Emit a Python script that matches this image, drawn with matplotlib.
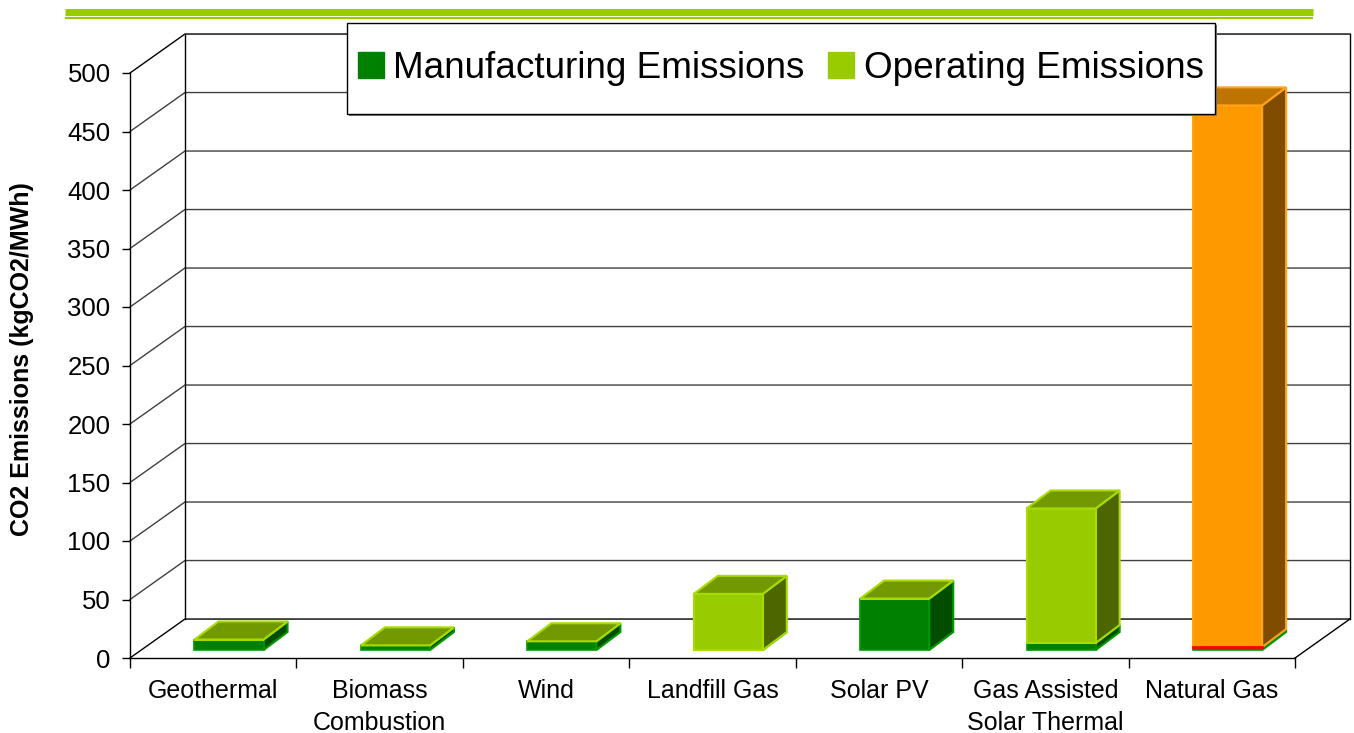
import numpy as np
import matplotlib.pyplot as plt
from matplotlib.patches import Polygon, Rectangle, Patch
from matplotlib.lines import Line2D

plt.rcParams['font.family'] = ['Liberation Sans', 'DejaVu Sans']

categories = ['Geothermal', 'Biomass\nCombustion', 'Wind', 'Landfill Gas',
              'Solar PV', 'Gas Assisted\nSolar Thermal', 'Natural Gas']
manufacturing = [9, 4, 7.5, 0, 44, 6, 2.5]
operating = [0, 0, 0, 48, 0, 115, 463]
y_ticks = list(range(0, 501, 50))
series_names = ['Manufacturing Emissions', 'Operating Emissions']

# face colours: front, side, top, edge
man_col = ('#008000', '#004d00', '#006600', '#009900')
op_col = ('#99cc00', '#4d6600', '#739900', '#a8dc00')
gas_col = ('#ff9900', '#804d00', '#bf7300', '#ffa31a')
op_colors = [op_col] * 6 + [gas_col]

W, H = 1354, 733
fig = plt.figure(figsize=(W / 100, H / 100), dpi=100)
ax = fig.add_axes([130 / W, 1 - 658 / H, 1165 / W, 585 / H])
n = len(categories)
x0, x1 = -0.5, n - 0.5
ax.set_xlim(x0, x1)
ax.set_ylim(0, 500)
ax.patch.set_visible(False)

# fake 3d geometry, in data units
DX, DY = 0.33, 33.3     # floor depth
BX, BY = 0.095, 6.8     # where the bar fronts sit
SX, SY = 0.144, 15.4    # bar depth
BW = 0.415

# back wall + side wall grid
for v in y_ticks:
    c = 'black' if v in (0, 500) else '#404040'
    ax.plot([x0, x0 + DX, x1 + DX], [v, v + DY, v + DY], color=c, lw=1,
            clip_on=False, zorder=1)
ax.plot([x0 + DX] * 2, [DY, 500 + DY], color='black', lw=1, clip_on=False, zorder=1)
ax.plot([x1 + DX] * 2, [DY, 500 + DY], color='black', lw=1, clip_on=False, zorder=1)
ax.plot([x1, x1 + DX], [0, DY], color='black', lw=1, clip_on=False, zorder=1)

xs = np.arange(n) + BX
man = np.array(manufacturing, dtype=float)
op = np.array(operating, dtype=float)

ax.bar(xs, man, width=BW, bottom=BY, color=man_col[0], edgecolor=man_col[3],
       lw=1.2, zorder=3)
ax.bar(xs, op, width=BW, bottom=BY + man, color=[c[0] for c in op_colors],
       edgecolor=[c[3] for c in op_colors], lw=1.5, zorder=3)


def side_top(xc, b, t, col, top=False):
    xl, xr = xc - BW / 2, xc + BW / 2
    ax.add_patch(Polygon([(xr, b), (xr + SX, b + SY), (xr + SX, t + SY), (xr, t)],
                         closed=True, fc=col[1], ec=col[3], lw=1.5,
                         clip_on=False, zorder=2.9))
    if top:
        ax.add_patch(Polygon([(xl, t), (xl + SX, t + SY), (xr + SX, t + SY), (xr, t)],
                             closed=True, fc=col[2], ec=col[3], lw=1.5,
                             clip_on=False, zorder=3.1))


for i in range(n):
    b = BY
    side_top(xs[i], b, b + man[i], man_col)
    side_top(xs[i], b + man[i], b + man[i] + op[i], op_colors[i], top=True)

# thin red rim under the natural gas block
ax.plot([xs[-1] - BW / 2, xs[-1] + BW / 2], [BY + man[-1]] * 2, color='#ff0000',
        lw=2, zorder=3.05)

# axes / ticks
for s in ('top', 'right'):
    ax.spines[s].set_visible(False)
ax.spines['left'].set_linewidth(1)
ax.spines['bottom'].set_linewidth(1)
ax.set_yticks(y_ticks)
ax.tick_params(axis='y', length=6, width=1, pad=8, labelsize=18.5)
ax.set_xticks(np.arange(x0, x1 + 0.01, 1))
ax.set_xticklabels([])
ax.set_xticks(np.arange(n), minor=True)
ax.set_xticklabels(categories, minor=True, fontsize=18, linespacing=1.45)
ax.tick_params(axis='x', which='major', length=7, width=1)
ax.tick_params(axis='x', which='minor', length=0, pad=15)

ax.set_ylabel('CO2 Emissions (kgCO2/MWh)', fontsize=18, fontweight='bold')
ax.yaxis.set_label_coords(-96 / 1165, 0.511)

# green rule at the top
fig.add_artist(Line2D([65 / W, 1313 / W], [1 - 11.5 / H] * 2, lw=5, color='#99cc00',
                      solid_capstyle='butt'))
fig.add_artist(Line2D([65 / W, 1313 / W], [1 - 18.3 / H] * 2, lw=1.6, color='#99cc00',
                      solid_capstyle='butt'))

# legend box
fig.add_artist(Rectangle((349 / W, 1 - 116 / H), 868 / W, 91 / H, transform=fig.transFigure,
                         fc='#808080', ec='none', zorder=4))
fig.add_artist(Rectangle((347 / W, 1 - 114 / H), 868 / W, 91 / H, transform=fig.transFigure,
                         fc='white', ec='black', lw=1, zorder=4.5))
handles = [Patch(fc=man_col[0], ec=man_col[0]), Patch(fc=op_col[0], ec=op_col[0])]
fig.legend(handles, series_names, loc='center left',
           bbox_to_anchor=(358 / W, 1 - 68 / H), ncol=2, frameon=False,
           fontsize=26.6, handlelength=0.7, handleheight=0.7, handletextpad=0.25,
           columnspacing=0.65, borderpad=0, borderaxespad=0).set_zorder(5)

fig.savefig('out.png', dpi=100)
